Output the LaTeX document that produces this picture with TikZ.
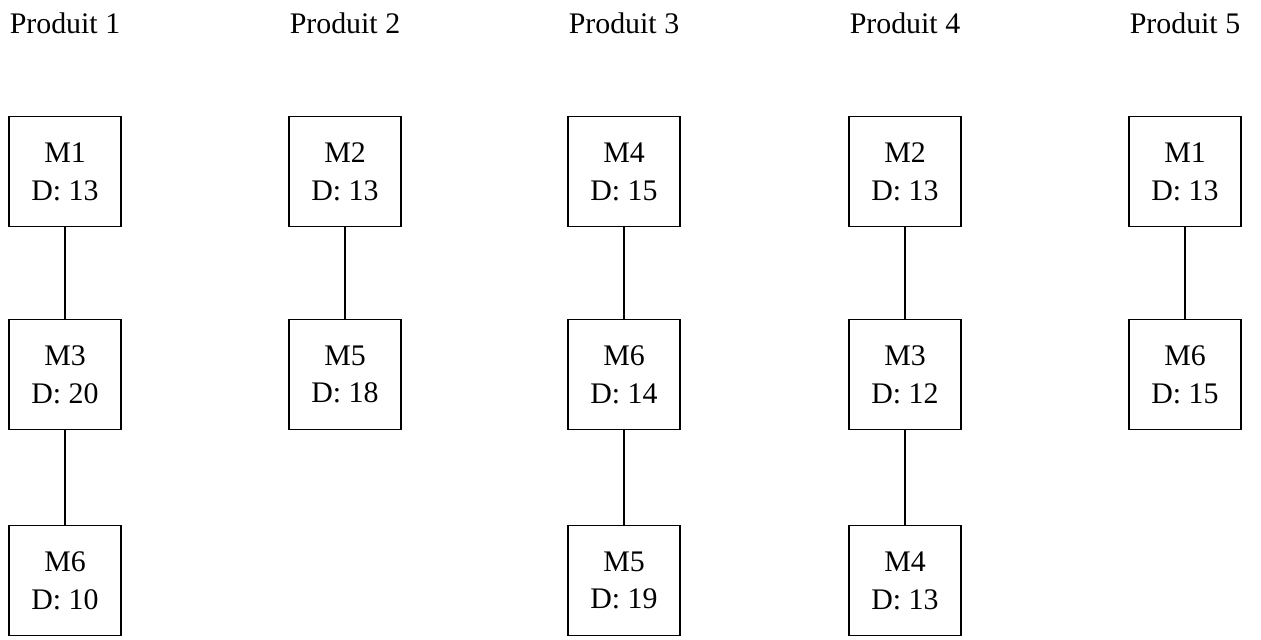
\documentclass[tikz,border=0pt]{standalone}
\usepackage{fontspec}
\setmainfont{Liberation Serif}
\usepackage{tikz}

\tikzset{
  machine/.style={draw, line width=1pt, minimum width=2.24cm, minimum height=2.2cm,
    inner sep=0pt, align=center, font=\fontsize{17}{21.5}\selectfont},
  produit/.style={anchor=base, font=\fontsize{17}{21.5}\selectfont},
  link/.style={line width=1pt}
}

\begin{document}
\begin{tikzpicture}
  \useasboundingbox (0,0) rectangle (25.22,12.78);

  % Column titles
  \node[produit] (t1) at (1.30,12.10) {Produit 1};
  \node[produit] (t2) at (6.90,12.10) {Produit 2};
  \node[produit] (t3) at (12.48,12.10) {Produit 3};
  \node[produit] (t4) at (18.10,12.10) {Produit 4};
  \node[produit] (t5) at (23.70,12.10) {Produit 5};

  % Produit 1
  \node[machine] (p1a) at (1.30,9.35) {M1\\D: 13};
  \node[machine] (p1b) at (1.30,5.29) {M3\\D: 20};
  \node[machine] (p1c) at (1.30,1.17) {M6\\D: 10};
  \draw[link] (p1a) -- (p1b);
  \draw[link] (p1b) -- (p1c);

  % Produit 2
  \node[machine] (p2a) at (6.90,9.35) {M2\\D: 13};
  \node[machine] (p2b) at (6.90,5.29) {M5\\D: 18};
  \draw[link] (p2a) -- (p2b);

  % Produit 3
  \node[machine] (p3a) at (12.48,9.35) {M4\\D: 15};
  \node[machine] (p3b) at (12.48,5.29) {M6\\D: 14};
  \node[machine] (p3c) at (12.48,1.17) {M5\\D: 19};
  \draw[link] (p3a) -- (p3b);
  \draw[link] (p3b) -- (p3c);

  % Produit 4
  \node[machine] (p4a) at (18.10,9.35) {M2\\D: 13};
  \node[machine] (p4b) at (18.10,5.29) {M3\\D: 12};
  \node[machine] (p4c) at (18.10,1.17) {M4\\D: 13};
  \draw[link] (p4a) -- (p4b);
  \draw[link] (p4b) -- (p4c);

  % Produit 5
  \node[machine] (p5a) at (23.70,9.35) {M1\\D: 13};
  \node[machine] (p5b) at (23.70,5.29) {M6\\D: 15};
  \draw[link] (p5a) -- (p5b);
\end{tikzpicture}
\end{document}
